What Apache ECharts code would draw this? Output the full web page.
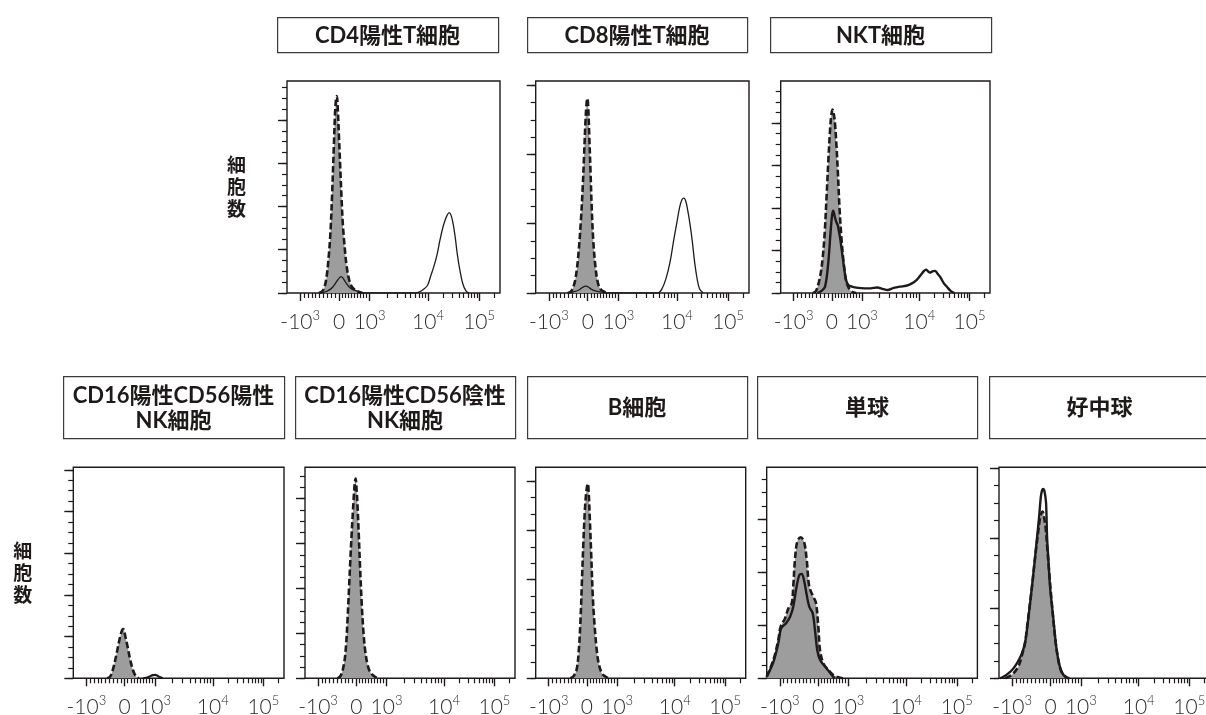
<!DOCTYPE html>
<html>
<head>
<meta charset="utf-8">
<script src="https://cdn.jsdelivr.net/npm/echarts@6/dist/echarts.min.js"></script>
<style>
  html, body { margin: 0; padding: 0; background: #fff; }
  #chart { width: 1206px; height: 715px; }
</style>
</head>
<body>
<div id="chart"></div>
<script>
// 蛍光軸 (logicle 表示, チャンネル 0-1000)
var tickChannels = [62, 244, 388, 662, 902];
var tickLabels = ['{n|-10}{s|3}', '{n|0}', '{n|10}{s|3}', '{n|10}{s|4}', '{n|10}{s|5}'];

var panelNames = ['CD4陽性T細胞', 'CD8陽性T細胞', 'NKT細胞',
    'CD16陽性CD56陽性\nNK細胞', 'CD16陽性CD56陰性\nNK細胞', 'B細胞', '単球', '好中球'];

// 縦軸の最大値 (細胞数) と副目盛の分割数
var yMax = [490, 306, 499, 506, 470, 428, 398, 301];
var yMinorSplit = [4, 4, 4, 4, 4, 3, 4, 4];

// CD4陽性T細胞
var cd4CtrlX = [150, 163, 175, 186, 196, 204, 212, 220, 226, 231, 234, 238, 244, 250, 256, 262, 270, 280, 292, 305, 320, 335, 355];
var cd4CtrlY = [0, 3, 12, 38, 85, 140, 230, 340, 420, 452, 455, 430, 360, 290, 220, 160, 110, 62, 30, 14, 7, 3, 0];
var cd4SampX = [150, 175, 195, 215, 235, 248, 254, 262, 275, 290, 305, 320, 340, 355, 600, 620, 640, 660, 675, 690, 705, 718, 730, 742, 752, 761, 770, 780, 790, 800, 812, 825, 840, 855];
var cd4SampY = [0, 2, 6, 14, 28, 36, 38, 35, 25, 15, 9, 6, 3, 0, 0, 2, 8, 18, 40, 62, 90, 122, 148, 168, 180, 186, 180, 160, 128, 88, 52, 22, 5, 0];

// CD8陽性T細胞
var cd8CtrlX = [150, 165, 180, 192, 202, 212, 220, 227, 233, 238, 242, 246, 251, 257, 263, 270, 280, 292, 305, 320, 335];
var cd8CtrlY = [0, 2, 12, 32, 62, 105, 150, 200, 245, 272, 281, 270, 228, 175, 120, 75, 38, 14, 5, 2, 0];
var cd8SampX = [150, 180, 200, 215, 228, 236, 245, 258, 275, 295, 320, 340, 570, 590, 610, 630, 648, 662, 675, 686, 695, 704, 714, 724, 734, 745, 756, 768, 785];
var cd8SampY = [0, 2, 4, 7, 9.5, 10, 9, 6, 3.5, 2, 1, 0, 0, 5, 20, 45, 78, 102, 124, 135, 137, 132, 117, 98, 75, 45, 22, 6, 0];

// NKT細胞
var nktCtrlX = [155, 170, 188, 200, 210, 220, 228, 236, 242, 248, 254, 260, 266, 273, 281, 290, 300, 312, 325, 340, 360];
var nktCtrlY = [0, 6, 38, 80, 140, 235, 315, 385, 420, 432, 420, 395, 350, 285, 200, 130, 75, 30, 12, 3, 0];
var nktSampX = [175, 195, 212, 227, 239, 246, 251, 258, 265, 272, 283, 292, 300, 312, 323, 340, 370, 400, 430, 460, 490, 510, 540, 570, 600, 625, 650, 670, 685, 694, 704, 713, 725, 737, 750, 762, 778, 795, 812, 830];
var nktSampY = [0, 5, 15, 70, 148, 185, 194, 180, 168, 160, 132, 100, 70, 31, 19, 15, 12, 11, 11, 13, 9, 7, 12, 15, 17, 22, 31, 43, 52, 55, 51, 48, 51, 52, 45, 38, 24, 14, 5, 0];

// CD16陽性CD56陽性NK細胞
var nk1CtrlX = [160, 175, 190, 205, 218, 228, 234, 237, 241, 248, 258, 270, 283, 298, 310];
var nk1CtrlY = [0, 4, 25, 58, 90, 110, 117, 118, 114, 98, 75, 45, 20, 4, 0];
var nk1SampX = [330, 350, 365, 378, 388, 398, 410, 425];
var nk1SampY = [0, 2, 5, 7.5, 8, 6.5, 3, 0];

// CD16陽性CD56陰性NK細胞
var nk2CtrlX = [155, 170, 185, 195, 203, 210, 216, 222, 228, 233, 237, 241, 245, 250, 256, 262, 270, 278, 287, 298, 310, 325, 345];
var nk2CtrlY = [0, 6, 30, 70, 135, 204, 265, 320, 370, 410, 435, 445, 425, 385, 320, 250, 167, 105, 60, 30, 14, 6, 0];

// B細胞
var bCtrlX = [165, 180, 195, 205, 213, 220, 227, 234, 240, 245, 248, 252, 258, 264, 272, 280, 290, 300, 315, 330, 345];
var bCtrlY = [0, 4, 18, 55, 115, 195, 275, 340, 375, 390, 395, 380, 320, 255, 165, 110, 60, 30, 10, 4, 0];

// 単球
var monoCtrlX = [0, 32, 55, 66, 87, 103, 119, 126, 134, 145, 161, 177, 190, 202, 221, 234, 245, 253, 269, 292, 316, 340, 364];
var monoCtrlY = [3, 35, 72, 97, 113, 132, 142, 173, 223, 258, 266, 258, 223, 173, 154, 142, 97, 53, 28, 16, 6, 2, 0];
var monoSampX = [0, 32, 55, 68, 92, 111, 126, 142, 155, 166, 177, 190, 202, 218, 229, 240, 253, 277, 300, 313, 324];
var monoSampY = [3, 31, 66, 94, 104, 116, 135, 173, 195, 197, 185, 157, 135, 123, 91, 53, 35, 22, 11, 4, 0];

// 好中球
var neuCtrlX = [30, 44, 65, 92, 108, 123, 135, 147, 158, 168, 178, 187, 194, 199, 204, 207, 211, 216, 222, 229, 237, 245, 253, 261, 269, 280, 290, 302, 313, 329];
var neuCtrlY = [0, 2, 6, 17, 32, 50, 78, 107, 135, 164, 190, 212, 228, 234, 237, 238, 234, 225, 212, 185, 155, 125, 98, 72, 50, 28, 14, 6, 3, 0];
var neuSampX = [5, 25, 44, 65, 84, 105, 123, 140, 155, 168, 180, 190, 198, 204, 210, 216, 223, 228, 234, 242, 253, 262, 270, 280, 292, 305, 320, 335];
var neuSampY = [0, 3, 7, 13, 21, 33, 50, 88, 128, 164, 200, 230, 258, 268, 270, 266, 250, 200, 170, 130, 98, 72, 48, 28, 13, 5, 1, 0];

function zip(xs, ys) {
    return xs.map(function (x, i) { return [x, ys[i]]; });
}

var panels = [
    { ctrl: zip(cd4CtrlX, cd4CtrlY), samp: zip(cd4SampX, cd4SampY), lw: 1.3 },
    { ctrl: zip(cd8CtrlX, cd8CtrlY), samp: zip(cd8SampX, cd8SampY), lw: 1.3 },
    { ctrl: zip(nktCtrlX, nktCtrlY), samp: zip(nktSampX, nktSampY), lw: 2.4 },
    { ctrl: zip(nk1CtrlX, nk1CtrlY), samp: zip(nk1SampX, nk1SampY), lw: 2.2 },
    { ctrl: zip(nk2CtrlX, nk2CtrlY), samp: null, lw: 2.2 },
    { ctrl: zip(bCtrlX, bCtrlY), samp: null, lw: 2.2 },
    { ctrl: zip(monoCtrlX, monoCtrlY), samp: zip(monoSampX, monoSampY), lw: 2.4 },
    { ctrl: zip(neuCtrlX, neuCtrlY), samp: zip(neuSampX, neuSampY), lw: 2.4 }
];

// 配置
var gridBoxes = [
    { left: 287, top: 81, width: 213, height: 212 },
    { left: 535.7, top: 81, width: 213.3, height: 212 },
    { left: 780.7, top: 81, width: 209.3, height: 212 },
    { left: 73.3, top: 467.3, width: 210.7, height: 211 },
    { left: 305, top: 467.3, width: 210, height: 211 },
    { left: 535.7, top: 467.3, width: 210, height: 211 },
    { left: 766.7, top: 467.3, width: 210.7, height: 211 },
    { left: 999, top: 467.3, width: 211, height: 211 }
];
var titleBoxes = [
    { x: 277, y: 17, w: 221, h: 35 },
    { x: 527, y: 17, w: 220, h: 35 },
    { x: 770, y: 17, w: 221, h: 35 },
    { x: 63, y: 376, w: 221, h: 62 },
    { x: 295, y: 376, w: 220, h: 62 },
    { x: 527, y: 376, w: 220, h: 62 },
    { x: 757, y: 376, w: 220, h: 62 },
    { x: 989, y: 376, w: 240, h: 62 }
];

var ink = '#1e1a19';
var cjk = "Lato, 'Noto Sans CJK JP', sans-serif";

// 副目盛 (横軸)
var xMinor = [];
for (var k = 1; k < 10; k++) {
    xMinor.push(tickChannels[0] + (tickChannels[1] - tickChannels[0]) * k / 10);
    xMinor.push(tickChannels[1] + (tickChannels[2] - tickChannels[1]) * k / 10);
}
for (var m = 2; m < 10; m++) {
    xMinor.push(tickChannels[2] + (tickChannels[3] - tickChannels[2]) * Math.log10(m));
    xMinor.push(tickChannels[3] + (tickChannels[4] - tickChannels[3]) * Math.log10(m));
}
xMinor.push(tickChannels[4] + (tickChannels[4] - tickChannels[3]) * Math.log10(2));

var grid = [], xAxis = [], yAxis = [], series = [], graphic = [];

panels.forEach(function (p, i) {
    var g = gridBoxes[i];
    grid.push({
        left: g.left, top: g.top, width: g.width, height: g.height,
        show: true, borderColor: ink, borderWidth: 1.4, backgroundColor: 'transparent',
        containLabel: false, outerBoundsMode: 'none'
    });

    // 縦軸の目盛
    var yMajorVals = [], yMinorVals = [];
    for (var v = 0; v <= yMax[i]; v += 100) yMajorVals.push(v);
    var step = 100 / yMinorSplit[i];
    for (var j = 0; j * step <= yMax[i]; j++) yMinorVals.push(j * step);

    // 副目盛の軸
    xAxis.push({
        type: 'value', gridIndex: i, min: 0, max: 1000, position: 'bottom',
        axisLine: { show: false }, splitLine: { show: false },
        axisLabel: { show: false },
        axisTick: { show: true, length: 5, customValues: xMinor, lineStyle: { color: ink, width: 1.2 } }
    });
    // 主目盛とラベル
    xAxis.push({
        type: 'value', gridIndex: i, min: 0, max: 1000, position: 'bottom',
        axisLine: { show: false }, splitLine: { show: false },
        axisTick: { show: true, length: 8, customValues: tickChannels, lineStyle: { color: ink, width: 1.4 } },
        axisLabel: {
            show: true, margin: 16, customValues: tickChannels,
            formatter: function (val) { return tickLabels[tickChannels.indexOf(val)]; },
            rich: {
                n: { fontSize: 21, fontFamily: 'Lato', fontWeight: 300, color: '#2a2a2a', lineHeight: 26 },
                s: { fontSize: 13, fontFamily: 'Lato', fontWeight: 300, color: '#2a2a2a', verticalAlign: 'top', lineHeight: 26 }
            }
        }
    });
    yAxis.push({
        type: 'value', gridIndex: i, min: 0, max: yMax[i], position: 'left',
        axisLine: { show: false }, splitLine: { show: false }, axisLabel: { show: false },
        axisTick: { show: true, length: 5, customValues: yMinorVals, lineStyle: { color: ink, width: 1.2 } }
    });
    var yMajor = {
        type: 'value', gridIndex: i, min: 0, max: yMax[i], position: 'left',
        axisLine: { show: false }, splitLine: { show: false }, axisLabel: { show: false },
        axisTick: { show: true, length: 9, customValues: yMajorVals, lineStyle: { color: ink, width: 1.4 } }
    };
    if (i === 0 || i === 3) {
        yMajor.name = '細\n胞\n数';
        yMajor.nameLocation = 'middle';
        yMajor.nameRotate = 0;
        yMajor.nameGap = 41;
        yMajor.nameTextStyle = {
            fontSize: 19, fontWeight: 'bold', lineHeight: 22,
            fontFamily: "'Noto Sans CJK JP', sans-serif", color: ink
        };
    }
    yAxis.push(yMajor);

    // 対照 (灰色・破線)
    series.push({
        type: 'line', xAxisIndex: 2 * i + 1, yAxisIndex: 2 * i + 1,
        data: p.ctrl, symbol: 'none', smooth: 0.35, silent: true, z: 2,
        lineStyle: { color: ink, width: 2.6, type: [6.5, 3] },
        areaStyle: { color: '#9d9d9d', opacity: 1 }
    });
    // 検体 (実線)
    if (p.samp) {
        series.push({
            type: 'line', xAxisIndex: 2 * i + 1, yAxisIndex: 2 * i + 1,
            data: p.samp, symbol: 'none', smooth: 0.35, silent: true, z: 3,
            lineStyle: { color: ink, width: p.lw, type: 'solid' }
        });
    }

    // パネル見出し
    var t = titleBoxes[i];
    graphic.push({
        type: 'rect', left: t.x, top: t.y, silent: true,
        shape: { width: t.w, height: t.h },
        style: { fill: '#fff', stroke: '#3a3a3a', lineWidth: 1.2 }
    });
    graphic.push({
        type: 'text', silent: true,
        x: t.x + Math.min(t.w, 221) / 2, y: t.y + t.h / 2 + 1,
        style: {
            text: panelNames[i], fill: ink, font: 'bold 22px ' + cjk,
            align: 'center', verticalAlign: 'middle', lineHeight: 25
        }
    });
});

var myChart = echarts.init(document.getElementById('chart'));
myChart.setOption({
    animation: false,
    backgroundColor: '#fff',
    grid: grid,
    xAxis: xAxis,
    yAxis: yAxis,
    series: series,
    graphic: graphic
});
</script>
</body>
</html>
